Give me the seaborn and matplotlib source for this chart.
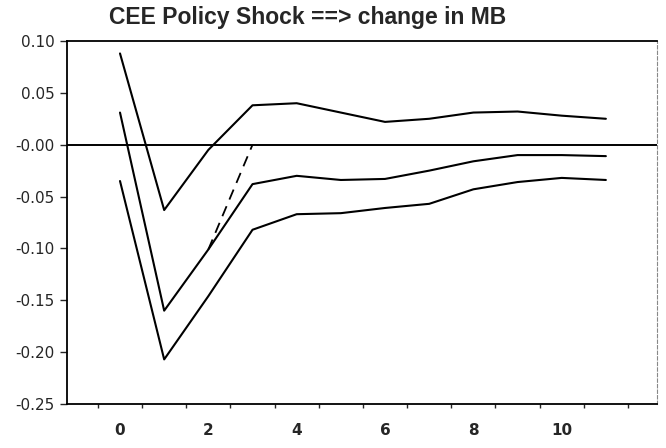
import numpy as np
import pandas as pd
from matplotlib import pyplot as plt
import seaborn as sns

# impulse response of MB to a CEE policy shock, with error bands
steps = [0, 1, 2, 3, 4, 5, 6, 7, 8, 9, 10, 11]
upper = [0.088, -0.063, -0.005, 0.038, 0.040, 0.031, 0.022, 0.025, 0.031, 0.032, 0.028, 0.025]
point = [0.031, -0.160, -0.101, -0.038, -0.030, -0.034, -0.033, -0.025, -0.016, -0.010, -0.010, -0.011]
lower = [-0.035, -0.207, -0.146, -0.082, -0.067, -0.066, -0.061, -0.057, -0.043, -0.036, -0.032, -0.034]
dash_steps = [2, 3]
dash_vals = [-0.101, 0.0]

yticks = [0.10, 0.05, 0.0, -0.05, -0.10, -0.15, -0.20, -0.25]
ytick_labels = ['0.10', '0.05', '-0.00', '-0.05', '-0.10', '-0.15', '-0.20', '-0.25']
xtick_pos = [0, 2, 4, 6, 8, 10]

sns.set_style('ticks')
plt.rcParams['font.family'] = ['Liberation Sans', 'DejaVu Sans']

fig = plt.figure(figsize=(6.66, 4.48), dpi=100)
ax = fig.add_axes([0.1006, 0.0982, 0.8854, 0.8103])

df = pd.DataFrame({'step': steps, 'upper': upper, 'point': point, 'lower': lower})
for col in ['upper', 'point', 'lower']:
    sns.lineplot(data=df, x='step', y=col, color='black', linewidth=1.5, ax=ax)
sns.lineplot(x=dash_steps, y=dash_vals, color='black', linewidth=1.3, ax=ax,
             linestyle=(0, (6, 4)))
ax.axhline(0, color='black', linewidth=1.4)

ax.set_xlim(-1.2, 12.15)
ax.set_ylim(-0.25, 0.10)
ax.set_xlabel('')
ax.set_ylabel('')

ax.set_yticks(yticks)
ax.set_yticklabels(ytick_labels, fontsize=11, family='DejaVu Sans')
ax.tick_params(axis='y', direction='out', length=5, width=1, pad=4)

ax.set_xticks(xtick_pos)
ax.set_xticklabels([str(v) for v in xtick_pos], fontsize=11, family='DejaVu Sans',
                   fontweight='bold')
ax.tick_params(axis='x', which='major', length=0, pad=14)
ax.set_xticks(np.arange(-0.5, 12, 1.0), minor=True)
ax.tick_params(axis='x', which='minor', direction='out', length=3, width=1)

for s in ['left', 'bottom', 'top']:
    ax.spines[s].set_linewidth(1.3)
    ax.spines[s].set_color('black')
ax.spines['right'].set_linewidth(0.8)
ax.spines['right'].set_color('#888888')
ax.spines['right'].set_linestyle((0, (3, 2)))

fig.text(0.462, 0.961, 'CEE Policy Shock ==> change in MB', ha='center', va='center',
         fontsize=16.5, fontweight='bold')

fig.savefig('out.png', dpi=100)
